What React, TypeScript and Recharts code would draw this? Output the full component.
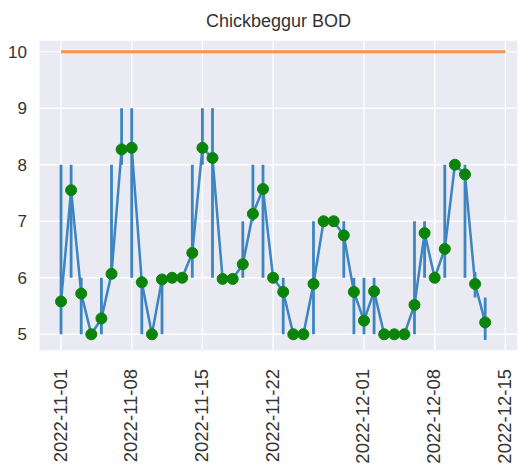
import { ComposedChart, Line, ErrorBar, XAxis, YAxis, CartesianGrid, ReferenceLine } from 'recharts';

const dates = [
  '2022-11-01', '2022-11-02', '2022-11-03', '2022-11-04', '2022-11-05', '2022-11-06', '2022-11-07',
  '2022-11-08', '2022-11-09', '2022-11-10', '2022-11-11', '2022-11-12', '2022-11-13', '2022-11-14',
  '2022-11-15', '2022-11-16', '2022-11-17', '2022-11-18', '2022-11-19', '2022-11-20', '2022-11-21',
  '2022-11-22', '2022-11-23', '2022-11-24', '2022-11-25', '2022-11-26', '2022-11-27', '2022-11-28',
  '2022-11-29', '2022-11-30', '2022-12-01', '2022-12-02', '2022-12-03', '2022-12-04', '2022-12-05',
  '2022-12-06', '2022-12-07', '2022-12-08', '2022-12-09', '2022-12-10', '2022-12-11', '2022-12-12',
  '2022-12-13',
];

const bod = [
  5.58, 7.55, 5.72, 5.0, 5.28, 6.07, 8.27,
  8.3, 5.92, 5.0, 5.97, 6.0, 6.0, 6.44,
  8.3, 8.12, 5.98, 5.98, 6.24, 7.13, 7.57,
  6.0, 5.75, 5.0, 5.0, 5.89, 7.0, 7.0,
  6.75, 5.75, 5.24, 5.76, 5.0, 5.0, 5.0,
  5.52, 6.79, 6.0, 6.51, 8.0, 7.83, 5.89,
  5.21,
];

// lower / upper end of each error bar (null = single reading, no bar)
const bodLow = [
  5, 6, 5, null, 5, 6, 8,
  6, 5, null, 5, null, null, 6,
  8, 6, null, null, 6, 7, 6,
  null, 5, null, null, 5, null, null,
  6, 5, 5, 5, null, null, null,
  5, 6, null, 6, null, 6, 5.65,
  4.9,
];
const bodHigh = [
  8, 8, 6, null, 6, 8, 9,
  9, 6, null, 6, null, null, 8,
  9, 9, null, null, 7, 8, 8,
  null, 6, null, null, 7, null, null,
  7, 6, 6, 6, null, null, null,
  7, 7, null, 8, null, 8, 6.1,
  5.65,
];

const limitValue = 10;
const limitStart = '2022-11-01';
const limitEnd = '2022-12-15';

const tickDates = ['2022-11-01', '2022-11-08', '2022-11-15', '2022-11-22', '2022-12-01', '2022-12-08', '2022-12-15'];
const yTicks = [5, 6, 7, 8, 9, 10];

const DAY = 86400000;
const origin = Date.UTC(2022, 10, 1);
const toDay = (s: string) => {
  const [y, m, d] = s.split('-').map(Number);
  return (Date.UTC(y, m - 1, d) - origin) / DAY;
};
const fromDay = (n: number) => {
  const dt = new Date(origin + Math.round(n) * DAY);
  return dt.toISOString().slice(0, 10);
};

const data = dates.map((d, i) => ({
  day: toDay(d),
  bod: bod[i],
  err: bodLow[i] == null ? [0, 0] : [bod[i] - (bodLow[i] as number), (bodHigh[i] as number) - bod[i]],
}));

const FONT = '"Liberation Sans", Arial, sans-serif';

const XTick = ({ x, y, payload }: any) => (
  <text
    transform={`translate(${x - 1},${y}) rotate(-90)`}
    textAnchor="end"
    dy="0.35em"
    fontSize={18.5}
    fontFamily={FONT}
    fill="#333"
  >
    {fromDay(payload.value)}
  </text>
);

export default function App() {
  return (
    <div style={{ position: 'absolute', left: 0, top: 0, width: 518, height: 474, background: '#fff', fontFamily: FONT }}>
      <div style={{ position: 'absolute', top: 12, left: 39, width: 479, textAlign: 'center', fontSize: 18, lineHeight: '18px', color: '#333' }}>
        Chickbeggur BOD
      </div>
      <ComposedChart width={518} height={474} data={data} margin={{ top: 40, right: 0, bottom: 0, left: 0 }}>
        <CartesianGrid stroke="#ffffff" strokeWidth={1.3} fill="#eaeaf2" fillOpacity={1} />
        <XAxis
          dataKey="day"
          type="number"
          domain={[-2.18, 45.25]}
          ticks={tickDates.map(toDay)}
          tick={<XTick />}
          tickLine={false}
          axisLine={false}
          tickMargin={12}
          height={123}
          allowDataOverflow
        />
        <YAxis
          type="number"
          domain={[4.704, 10.207]}
          ticks={yTicks}
          tickLine={false}
          axisLine={false}
          tickMargin={6}
          width={39}
          allowDataOverflow
          tick={{ fill: '#333', fontSize: 17, fontFamily: FONT }}
        />
        <ReferenceLine
          segment={[{ x: toDay(limitStart), y: limitValue }, { x: toDay(limitEnd), y: limitValue }]}
          stroke="#f5944c"
          strokeWidth={3}
          ifOverflow="visible"
        />
        <Line
          dataKey="bod"
          stroke="#3c85c0"
          strokeWidth={2.5}
          isAnimationActive={false}
          dot={{ r: 5.5, fill: '#0b840b', stroke: '#0b840b', strokeWidth: 1 }}
          activeDot={false}
        >
          <ErrorBar dataKey="err" direction="y" width={0} stroke="#3c85c0" strokeWidth={2.8} isAnimationActive={false} />
        </Line>
      </ComposedChart>
    </div>
  );
}
